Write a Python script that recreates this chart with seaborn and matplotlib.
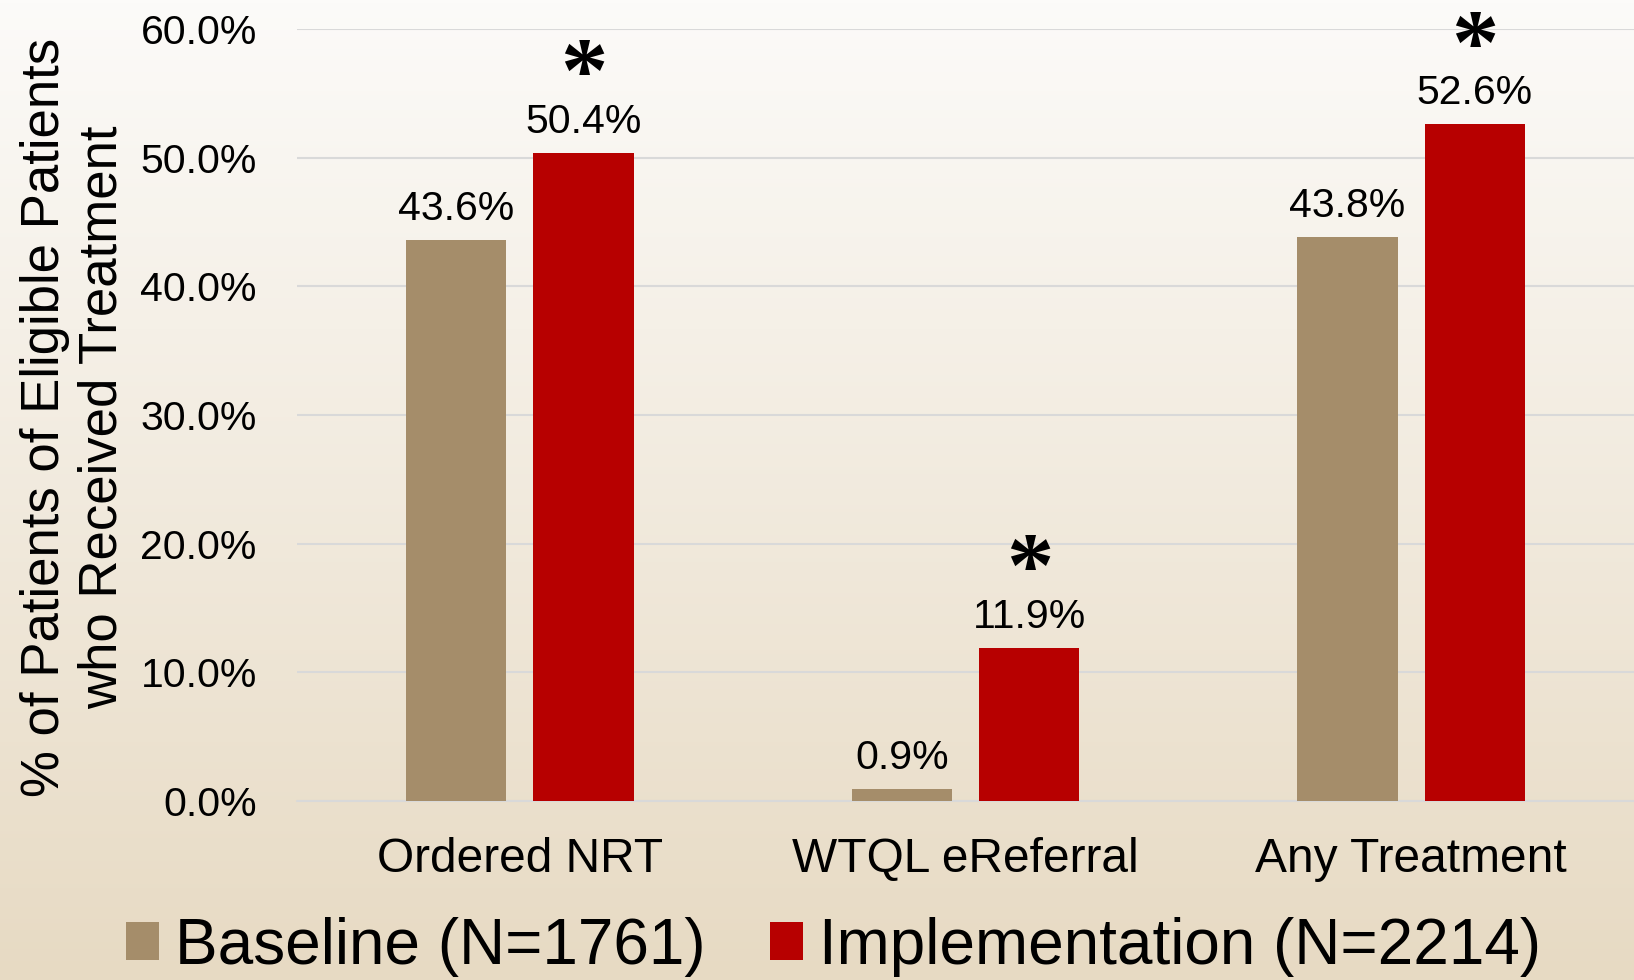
import numpy as np
import pandas as pd
import matplotlib
matplotlib.use("Agg")
import matplotlib.pyplot as plt
import matplotlib.colors as mcolors
from matplotlib.patches import Patch
import seaborn as sns

# --- дані ---
categories = ["Ordered NRT", "WTQL eReferral", "Any Treatment"]
groups = ["Baseline (N=1761)", "Implementation (N=2214)"]
baseline = [43.6, 0.9, 43.8]
implementation = [50.4, 11.9, 52.6]
significant = [True, True, True]
y_ticks = [0, 10, 20, 30, 40, 50, 60]
y_label = "% of Patients of Eligible Patients\nwho Received Treatment"

colors = {groups[0]: "#A58D6A", groups[1]: "#B70000"}

df = pd.DataFrame({
    "category": categories * 2,
    "group": [groups[0]] * len(categories) + [groups[1]] * len(categories),
    "value": baseline + implementation,
})

sns.set_theme(style="white")
plt.rcParams["font.family"] = ["Liberation Sans", "DejaVu Sans"]
plt.rcParams["text.color"] = "black"

fig = plt.figure(figsize=(16.34, 9.8), dpi=100)

# фон з градієнтом
bg = fig.add_axes([0, 0, 1, 1], zorder=-10)
grad = np.linspace(0, 1, 256)[:, None, None]
c_top = np.array(mcolors.to_rgb("#FCFBF9"))
c_bot = np.array(mcolors.to_rgb("#E7DAC3"))
img = c_top + (c_bot - c_top) * grad
bg.imshow(img, aspect="auto", extent=[0, 1, 0, 1])
bg.axis("off")

ax = fig.add_axes([0.1818, 0.1827, 0.8182, 0.7877])
ax.set_facecolor("none")

sns.barplot(data=df, x="category", y="value", hue="group", palette=colors,
            width=0.572, gap=0.213, saturation=1, legend=False, ax=ax,
            linewidth=0, edgecolor="none")

# підписи значень
for container, vals in zip(ax.containers, [baseline, implementation]):
    for bar, v in zip(container, vals):
        ax.annotate(f"{v:.1f}%", xy=(bar.get_x() + bar.get_width() / 2, bar.get_height()),
                    xytext=(0, 14.4), textcoords="offset points",
                    ha="center", va="baseline", fontsize=29.5, color="black")

# зірочки значущості
for bar, sig in zip(ax.containers[1], significant):
    if sig:
        ax.annotate("*", xy=(bar.get_x() + bar.get_width() / 2, bar.get_height()),
                    xytext=(0, 37), textcoords="offset points",
                    ha="center", va="baseline", fontsize=68, color="black",
                    family=["Liberation Serif"], fontweight="bold",
                    annotation_clip=False)

ax.set_xlim(-0.5, 2.5)
ax.set_ylim(0, 60)
ax.set_yticks(y_ticks)
ax.set_yticklabels([f"{t:.1f}%" for t in y_ticks])
ax.yaxis.grid(True, color="#D9D9D9", linewidth=1.5)
ax.axhline(0, color="#D9D9D9", linewidth=1.5, clip_on=False, zorder=0.5)
ax.set_axisbelow(True)
for s in ax.spines.values():
    s.set_visible(False)
ax.tick_params(axis="y", length=0, pad=29, labelsize=29.5, labelcolor="black")
ax.tick_params(axis="x", length=0, pad=26, labelsize=34.5, labelcolor="black")
ax.set_xlabel("")
ax.set_ylabel("")

fig.text(0.0453, 0.5745, y_label, rotation=90, ha="center", va="center",
         multialignment="center", fontsize=38, color="black")

handles = [Patch(facecolor=colors[g], edgecolor="none") for g in groups]
fig.legend(handles=handles, labels=groups, loc="center", bbox_to_anchor=(0.51, 0.034),
           ncol=2, frameon=False, fontsize=46, handlelength=0.52, handleheight=0.52,
           handletextpad=0.25, columnspacing=1.0, borderpad=0, labelcolor="black")

fig.savefig("out.png", dpi=100)
